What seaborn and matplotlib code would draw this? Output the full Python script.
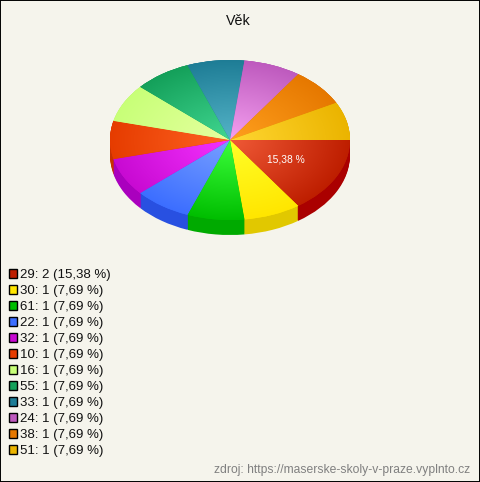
import numpy as np
import matplotlib
matplotlib.use("Agg")
import matplotlib.pyplot as plt
from matplotlib.patches import Patch, Rectangle
import seaborn as sns

ages = ["29", "30", "61", "22", "32", "10", "16", "55", "33", "24", "38", "51"]
counts = [2, 1, 1, 1, 1, 1, 1, 1, 1, 1, 1, 1]
percents = ["15,38", "7,69", "7,69", "7,69", "7,69", "7,69", "7,69", "7,69", "7,69", "7,69", "7,69", "7,69"]
edge_colors = ["#BE1E00", "#FFE600", "#00BE00", "#3C6EFF", "#C80AD2", "#E63C00",
               "#C8FF78", "#14A05A", "#1E7D96", "#BE5ABE", "#E67800", "#EBB400"]
center_colors = ["#F05A37", "#FFFF28", "#3CFF3C", "#78A0FF", "#F532FF", "#FF6423",
                 "#E6FFA0", "#41D791", "#55B4C8", "#F5A0F0", "#FFA01E", "#FFD732"]
side_colors = ["#AA0000", "#E1C800", "#00AA00", "#2850E1", "#AA00BE", "#C83200",
               "#AADC64", "#0F8C4B", "#196E82", "#A04BA0", "#C86400", "#C89600"]
bg = "#F5F4EC"

sns.set_theme(style="white")
plt.rcParams["font.family"] = ["Liberation Sans", "DejaVu Sans"]

fig = plt.figure(figsize=(4.8, 4.82), dpi=100, facecolor=bg)
ax = fig.add_axes([110 / 480, (482 - 220) / 482, 240 / 480, 160 / 482])

# side of the pie, stacked copies going up
depth = 15 / 80
for d in np.linspace(depth, 0, 16):
    ax.pie(counts, colors=side_colors, startangle=0, counterclock=False, radius=1, center=(0, -d),
           wedgeprops={"linewidth": 0})


def pct_label(p):
    return "15,38 %" if p > 10 else ""


wedges, _, autotexts = ax.pie(counts, colors=edge_colors, startangle=0, counterclock=False, radius=1,
                              autopct=pct_label, pctdistance=0.53, wedgeprops={"linewidth": 0},
                              textprops={"color": "white", "fontsize": 7.4})

# radial gradient clipped to each slice
yy, xx = np.mgrid[-1:1:400j, -1:1:600j]
rr = np.clip(np.hypot(xx, yy), 0, 1)[..., None]
for w, c0, c1 in zip(wedges, center_colors, edge_colors):
    a = np.array(matplotlib.colors.to_rgb(c0))
    b = np.array(matplotlib.colors.to_rgb(c1))
    img = a * (1 - rr) + b * rr
    im = ax.imshow(img, extent=(-1, 1, -1, 1), origin="lower", aspect="auto", zorder=w.get_zorder())
    im.set_clip_path(w)
for t in autotexts:
    t.set_zorder(5)

ax.set_aspect("auto")
ax.set_xlim(-1, 1)
ax.set_ylim(-1, 1)
ax.axis("off")

fig.text(238 / 480, 1 - 21 / 482, "Věk", ha="center", va="center", fontsize=10.3, color="#111111")

handles = [Patch(facecolor=c, edgecolor="black", linewidth=1) for c in edge_colors]
labels = [f"{a}: {n} ({p} %)" for a, n, p in zip(ages, counts, percents)]
fig.legend(handles, labels, loc="upper left", bbox_to_anchor=(-3 / 480, 1 - 257 / 482), frameon=False,
           fontsize=9.5, labelspacing=0.286, handlelength=0.6, handletextpad=0.22,
           borderpad=0.4, labelcolor="#111111")

fig.text(470 / 480, 1 - 470 / 482, "zdroj: https://maserske-skoly-v-praze.vyplnto.cz",
         ha="right", va="center", fontsize=8.78, color="#808080")

fig.add_artist(Rectangle((0, 0), 1, 1, transform=fig.transFigure, fill=False, edgecolor="black", linewidth=1.4))

fig.savefig("out.png", dpi=100, facecolor=bg)
